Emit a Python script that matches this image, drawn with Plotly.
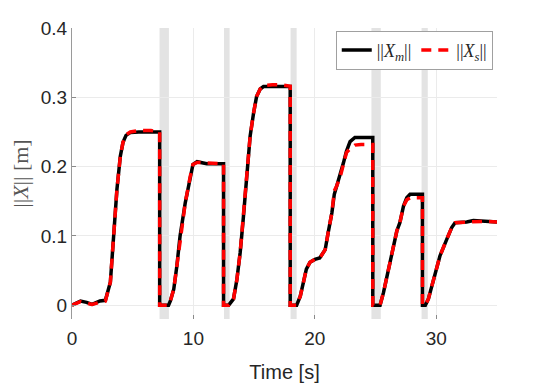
import plotly.graph_objects as go

# time samples (s), shared by both signals; repeated times are the vertical resets
t = [0, 0.7, 1.2, 1.65, 2.3, 2.75, 3.16, 3.43, 3.7, 3.98, 4.2, 4.45, 4.8, 5.5, 6.5, 7.22, 7.22,
     7.95, 8.1, 8.38, 8.64, 8.9, 9.33, 9.74, 9.96, 10.3, 11.1, 12.48, 12.48,
     12.9, 13.3, 13.58, 13.85, 14.1, 14.4, 14.67, 14.95, 15.2, 15.5, 15.77, 16.5, 17.2, 17.97, 17.97,
     18.5, 18.8, 19.06, 19.3, 19.6, 20.0, 20.4, 20.85, 21.1, 21.4, 21.6, 21.8, 22.1, 22.35, 22.6, 22.9,
     23.3, 23.8, 24.77, 24.77,
     25.37, 25.65, 26.06, 26.47, 26.75, 27.0, 27.3, 27.57, 27.84, 28.3, 28.86, 28.86,
     29.1, 29.35, 29.76, 30.3, 30.86, 31.27, 31.55, 32.5, 33.05, 33.9, 35.0]

# master position norm ||X_m|| (m)
xm = [0, 0.006, 0.004, 0.001, 0.006, 0.007, 0.033, 0.105, 0.167, 0.215, 0.235, 0.245, 0.249, 0.25, 0.25, 0.25, 0,
      0, 0.006, 0.023, 0.057, 0.1, 0.148, 0.186, 0.203, 0.207, 0.204, 0.204, 0,
      0, 0.009, 0.037, 0.076, 0.124, 0.181, 0.244, 0.277, 0.301, 0.312, 0.3155, 0.3155, 0.3155, 0.3155, 0,
      0, 0.013, 0.033, 0.052, 0.062, 0.066, 0.068, 0.08, 0.105, 0.133, 0.16, 0.172, 0.186, 0.205, 0.222, 0.236,
      0.242, 0.242, 0.242, 0,
      0, 0.018, 0.052, 0.085, 0.107, 0.119, 0.143, 0.155, 0.16, 0.16, 0.16, 0,
      0, 0.009, 0.037, 0.071, 0.095, 0.112, 0.119, 0.12, 0.122, 0.121, 0.12]

# slave position norm ||X_s|| (m)
xs = [0, 0.005, 0.003, 0.001, 0.004, 0.006, 0.033, 0.105, 0.167, 0.215, 0.235, 0.246, 0.25, 0.252, 0.252, 0.25, 0,
      0, 0.006, 0.023, 0.057, 0.1, 0.148, 0.186, 0.203, 0.206, 0.205, 0.204, 0,
      0, 0.009, 0.037, 0.076, 0.124, 0.181, 0.244, 0.277, 0.301, 0.312, 0.317, 0.318, 0.318, 0.316, 0,
      0, 0.013, 0.033, 0.052, 0.062, 0.066, 0.068, 0.08, 0.105, 0.133, 0.165, 0.172, 0.186, 0.205, 0.22, 0.226,
      0.231, 0.232, 0.232, 0,
      0, 0.018, 0.052, 0.085, 0.107, 0.119, 0.143, 0.152, 0.155, 0.155, 0.155, 0,
      0, 0.009, 0.037, 0.071, 0.095, 0.112, 0.119, 0.12, 0.121, 0.121, 0.12]

# grey shaded intervals (s)
band_start = [7.21, 12.52, 18.0, 24.66, 28.79]
band_end = [7.98, 12.98, 18.5, 25.43, 29.3]

y_ticks = [0, 0.1, 0.2, 0.3, 0.4]
y_labels = ["0", "0.1", "0.2", "0.3", "0.4"]
x_ticks = [0, 10, 20, 30]

serif = "Liberation Serif, Times New Roman, serif"

fig = go.Figure()
fig.add_trace(go.Scatter(x=t, y=xm, mode="lines", name="||<i>X<sub>m</sub></i>||",
                         line=dict(color="black", width=3.5)))
fig.add_trace(go.Scatter(x=t, y=xs, mode="lines", name="||<i>X<sub>s</sub></i>||",
                         line=dict(color="#ff0000", width=3.5, dash="10px,7px")))

for a, b in zip(band_start, band_end):
    fig.add_shape(type="rect", xref="x", yref="paper", x0=a, x1=b, y0=0, y1=1,
                  fillcolor="#e3e3e3", line_width=0, layer="below")

# the page body adds an 8px offset, so the figure is drawn 8px smaller
fig.update_layout(
    width=540, height=376,
    margin=dict(l=64, r=51, t=20, b=65, autoexpand=False),
    plot_bgcolor="white", paper_bgcolor="white",
    font=dict(family="Liberation Sans, Arial", size=19, color="#262626"),
    showlegend=True,
    legend=dict(orientation="h", x=0.99, y=0.99, xanchor="right", yanchor="top",
                bgcolor="white", bordercolor="#a0a0a0", borderwidth=1,
                font=dict(family=serif, size=18, color="#262626"),
                tracegroupgap=0, itemwidth=30),
)
fig.update_xaxes(range=[0, 35], tickvals=x_ticks, showgrid=True, gridcolor="#ebebeb",
                 zeroline=False, showline=False, ticks="inside", ticklen=4, tickcolor="#8a8a8a",
                 automargin=False, ticklabelstandoff=6,
                 title=dict(text="Time [s]", font=dict(size=20), standoff=16))
fig.update_yaxes(range=[-0.02, 0.4], tickvals=y_ticks, ticktext=y_labels,
                 showgrid=True, gridcolor="#ebebeb", zeroline=False,
                 showline=True, linecolor="#9a9a9a", linewidth=1,
                 ticks="inside", ticklen=4, tickcolor="#8a8a8a", automargin=False,
                 title=dict(text="||<i>X</i>|| [m]", font=dict(family=serif, size=22, color="#555555"),
                            standoff=10))

fig.write_html("out.html")
